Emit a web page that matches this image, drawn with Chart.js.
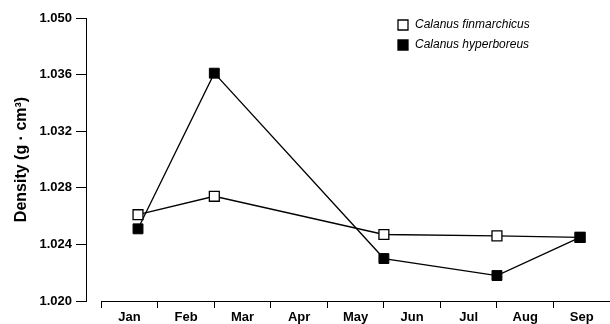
<!DOCTYPE html>
<html>
<head>
<meta charset="utf-8">
<script src="https://cdn.jsdelivr.net/npm/chart.js@4/dist/chart.umd.min.js"></script>
<style>
  html, body { margin: 0; padding: 0; background: #fff; overflow: hidden; }
  #wrap { position: relative; width: 610px; height: 324px; }
  #wrap canvas { display: block; }
</style>
</head>
<body>
<div id="wrap"><canvas id="c"></canvas></div>
<script>
// Month names shown under the x axis (one per month interval)
const months = ['Jan', 'Feb', 'Mar', 'Apr', 'May', 'Jun', 'Jul', 'Aug', 'Sep'];

// Sampling dates, in months since 1 January
const sampleMonth = [0.65, 2.0, 5.0, 7.0, 8.47];

// Body density (g · cm³)
const finmarchicus = [1.0261, 1.0274, 1.0247, 1.0246, 1.0245];
const hyperboreus  = [1.0251, 1.0361, 1.0230, 1.0218, 1.0245];

// Y axis tick positions and the labels printed at them
const yTickValues = [1.020, 1.024, 1.028, 1.032, 1.036, 1.040];
const yTickLabels = ['1.020', '1.024', '1.028', '1.032', '1.036', '1.050'];

const FONT = '"Liberation Sans", Arial, Helvetica, sans-serif';

const toPoints = (xs, ys) => xs.map((x, i) => ({ x: x, y: ys[i] }));

// x axis line runs only over the months (Jan 1 .. Sep 30), detached from the y axis
const monthAxisLine = {
  id: 'monthAxisLine',
  afterDraw(chart) {
    const x = chart.scales.x;
    const ctx = chart.ctx;
    const y = Math.round(chart.chartArea.bottom);
    ctx.save();
    ctx.strokeStyle = '#000';
    ctx.lineWidth = 1;
    ctx.beginPath();
    ctx.moveTo(x.getPixelForValue(0), y + 0.5);
    ctx.lineTo(x.getPixelForValue(months.length), y + 0.5);
    ctx.stroke();
    ctx.restore();
  }
};

// Place the legend box in the upper right of the plot
const legendPlacement = {
  id: 'legendPlacement',
  afterLayout(chart) {
    const lg = chart.legend;
    if (!lg) return;
    const w = lg.width, h = lg.height;
    lg.left = 389; lg.top = 11;
    lg.right = lg.left + w; lg.bottom = lg.top + h;
  }
};

new Chart(document.getElementById('c'), {
  type: 'line',
  data: {
    datasets: [
      {
        label: 'Calanus finmarchicus',
        data: toPoints(sampleMonth, finmarchicus),
        borderColor: '#000',
        backgroundColor: '#fff',
        borderWidth: 1.3,
        pointStyle: 'rect',
        pointRadius: 7,
        pointHoverRadius: 7,
        pointBorderWidth: 1.3,
        pointBorderColor: '#000',
        pointBackgroundColor: '#fff',
        fill: false,
        tension: 0,
        order: 1
      },
      {
        label: 'Calanus hyperboreus',
        data: toPoints(sampleMonth, hyperboreus),
        borderColor: '#000',
        backgroundColor: '#000',
        borderWidth: 1.3,
        pointStyle: 'rect',
        pointRadius: 0,
        pointHoverRadius: 0,
        fill: false,
        tension: 0,
        order: 2
      },
      {
        // filled markers of C. hyperboreus, kept above both lines
        label: 'hyperboreus markers',
        data: toPoints(sampleMonth, hyperboreus),
        showLine: false,
        borderColor: '#000',
        backgroundColor: '#000',
        pointStyle: 'rect',
        pointRadius: 7,
        pointHoverRadius: 7,
        pointBorderWidth: 1,
        pointBackgroundColor: '#000',
        pointBorderColor: '#000',
        order: 0
      }
    ]
  },
  plugins: [monthAxisLine, legendPlacement],
  options: {
    responsive: true,
    maintainAspectRatio: false,
    animation: false,
    layout: { autoPadding: false, padding: { top: 18, right: 0, bottom: 0, left: 0 } },
    plugins: {
      tooltip: { enabled: false },
      title: { display: false },
      legend: {
        position: 'chartArea',
        align: 'start',
        labels: {
          usePointStyle: true,
          boxWidth: 12,
          boxHeight: 10,
          padding: 8,
          color: '#000',
          font: { family: FONT, size: 12, style: 'italic' },
          filter: (item) => item.datasetIndex !== 2
        }
      }
    },
    scales: {
      x: {
        type: 'linear',
        min: -0.27,
        max: months.length,
        afterBuildTicks(scale) {
          const t = [];
          for (let i = 0; i <= months.length * 2; i++) t.push({ value: i / 2 });
          scale.ticks = t;
        },
        afterFit(scale) {
          scale.height = 23;
          scale.paddingLeft = 0;
          scale.paddingRight = 0;
        },
        border: { display: false },
        grid: {
          drawOnChartArea: false,
          drawTicks: true,
          tickLength: 7,
          lineWidth: 1,
          tickColor: (ctx) => (ctx.tick && Number.isInteger(ctx.tick.value)) ? '#000' : 'rgba(0,0,0,0)'
        },
        ticks: {
          autoSkip: false,
          maxRotation: 0,
          padding: 2,
          color: '#000',
          font: { family: FONT, size: 13, weight: 'bold' },
          callback: (v) => Number.isInteger(v) ? '' : months[Math.floor(v)]
        }
      },
      y: {
        type: 'linear',
        min: yTickValues[0],
        max: yTickValues[yTickValues.length - 1],
        afterBuildTicks(scale) {
          scale.ticks = yTickValues.map(v => ({ value: v }));
        },
        afterFit(scale) { scale.width = 86; },
        border: { display: true, color: '#000', width: 1 },
        grid: {
          drawOnChartArea: false,
          drawTicks: true,
          tickLength: 10,
          tickColor: '#000',
          lineWidth: 1
        },
        ticks: {
          padding: 4,
          color: '#000',
          font: { family: FONT, size: 13, weight: 'bold' },
          callback: (v, i) => yTickLabels[i]
        },
        title: {
          display: true,
          text: 'Density (g · cm³)',
          color: '#000',
          font: { family: FONT, size: 16, weight: 'bold' },
          padding: { top: 12, bottom: 0 }
        }
      }
    }
  }
});
</script>
</body>
</html>
